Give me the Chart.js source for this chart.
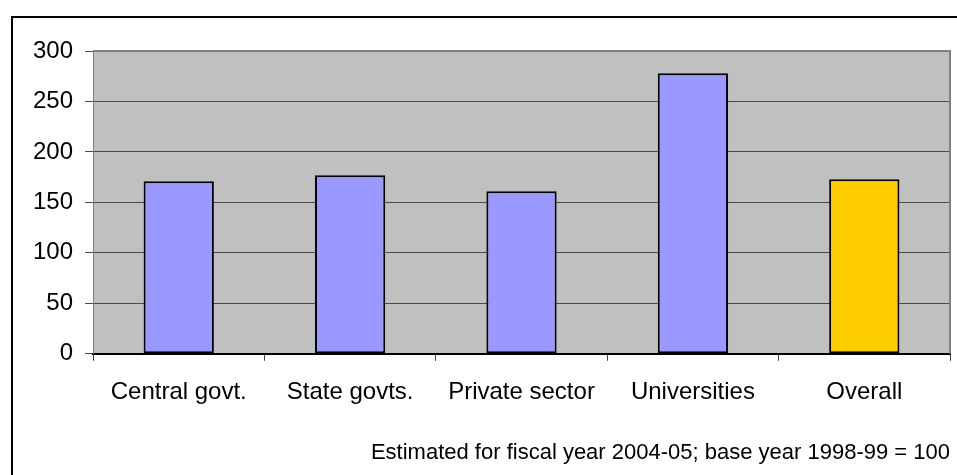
<!DOCTYPE html>
<html>
<head>
<meta charset="utf-8">
<script src="https://cdn.jsdelivr.net/npm/chart.js@4.4.1/dist/chart.umd.min.js"></script>
<style>
  html, body { margin: 0; padding: 0; background: #ffffff; }
  #wrap { width: 957px; height: 475px; position: relative; }
</style>
</head>
<body>
<div id="wrap"><canvas id="c" width="957" height="475"></canvas></div>
<script>
const categories = ["Central govt.", "State govts.", "Private sector", "Universities", "Overall"];
const values = [171, 177, 161, 278, 173];
const barColors = ["#9999FF", "#9999FF", "#9999FF", "#9999FF", "#FFCC00"];
const yTicks = [0, 50, 100, 150, 200, 250, 300];
const caption = "Estimated for fiscal year 2004-05; base year 1998-99 = 100";

const FONT = "'Liberation Sans', Arial, sans-serif";

const framePlugin = {
  id: 'frame',
  beforeDraw(chart) {
    const { ctx, chartArea: a } = chart;
    ctx.save();
    ctx.fillStyle = '#C0C0C0';
    ctx.fillRect(a.left, a.top, a.right - a.left, a.bottom - a.top);
    ctx.restore();
  },
  afterDraw(chart) {
    const { ctx, chartArea: a, width, height } = chart;
    ctx.save();
    ctx.strokeStyle = '#808080';
    ctx.lineWidth = 2;
    ctx.beginPath();
    ctx.moveTo(a.left, a.top);
    ctx.lineTo(a.right, a.top);
    ctx.lineTo(a.right, a.bottom);
    ctx.stroke();
    ctx.strokeStyle = '#000000';
    ctx.lineWidth = 2;
    ctx.beginPath();
    ctx.moveTo(width, 17);
    ctx.lineTo(12, 17);
    ctx.lineTo(12, height);
    ctx.stroke();
    ctx.restore();
  }
};

new Chart(document.getElementById('c'), {
  type: 'bar',
  data: {
    labels: categories,
    datasets: [{
      data: values,
      backgroundColor: barColors,
      borderColor: '#000000',
      borderWidth: 2,
      borderSkipped: false,
      barPercentage: 0.41,
      categoryPercentage: 1.0
    }]
  },
  options: {
    responsive: false,
    animation: false,
    devicePixelRatio: 1,
    layout: { padding: { left: 21, top: 51, right: 7, bottom: 0 } },
    plugins: {
      legend: { display: false },
      tooltip: { enabled: false },
      title: {
        display: true,
        text: caption,
        position: 'bottom',
        align: 'end',
        color: '#000000',
        font: { family: FONT, size: 22, weight: 'normal' },
        padding: { top: 16, bottom: 9 }
      }
    },
    scales: {
      x: {
        grid: {
          display: true,
          drawOnChartArea: false,
          drawTicks: true,
          tickLength: 7,
          color: '#404040',
          offset: true
        },
        border: { display: true, color: '#000000', width: 2 },
        ticks: {
          color: '#000000',
          font: { family: FONT, size: 24 },
          padding: 17,
          maxRotation: 0,
          autoSkip: false
        }
      },
      y: {
        min: 0,
        max: 300,
        afterBuildTicks(scale) { scale.ticks = yTicks.map(v => ({ value: v })); },
        grid: {
          color: '#4a4a4a',
          lineWidth: 1,
          drawTicks: true,
          tickLength: 8,
          tickColor: '#4a4a4a'
        },
        border: { display: true, color: '#808080', width: 1 },
        ticks: {
          color: '#000000',
          font: { family: FONT, size: 24 },
          padding: 12
        }
      }
    }
  },
  plugins: [framePlugin]
});
</script>
</body>
</html>
